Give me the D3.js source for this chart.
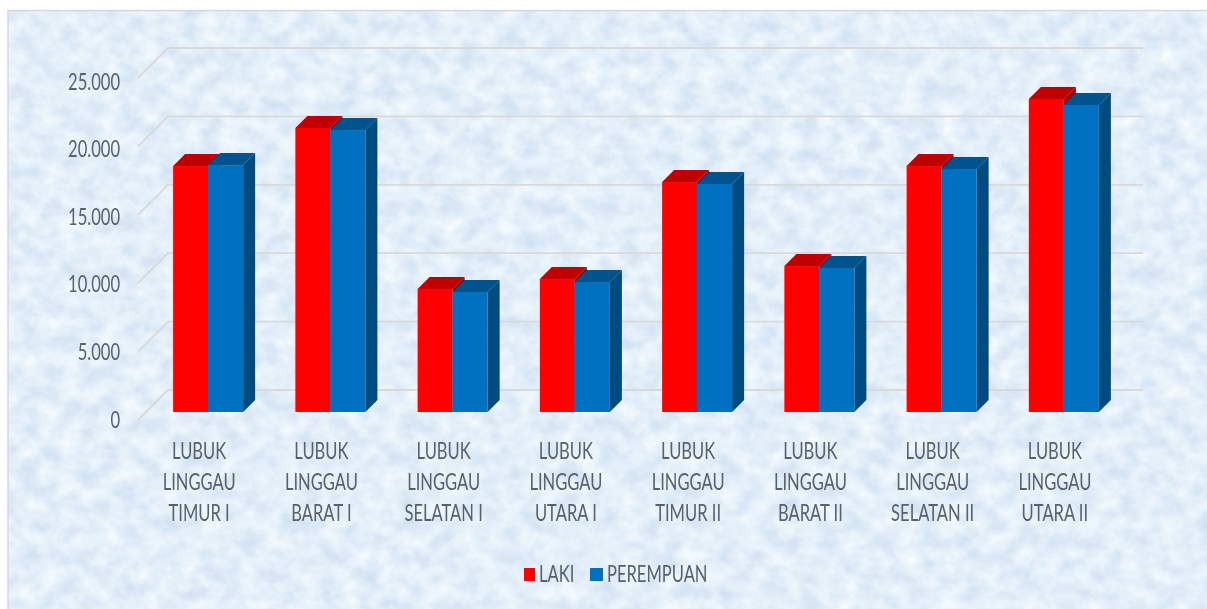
<!DOCTYPE html>
<html>
<head>
<meta charset="utf-8">
<script src="https://cdn.jsdelivr.net/npm/d3@7"></script>
<style>
    html, body { margin: 0; padding: 0; background: #fff; overflow: hidden; }
    text { font-family: Lato, "Open Sans", sans-serif; fill: #59616b; }
</style>
</head>
<body>
<div id="vis"></div>
<script>
// data
const categories = [
    ["LUBUK", "LINGGAU", "TIMUR I"],
    ["LUBUK", "LINGGAU", "BARAT I"],
    ["LUBUK", "LINGGAU", "SELATAN I"],
    ["LUBUK", "LINGGAU", "UTARA I"],
    ["LUBUK", "LINGGAU", "TIMUR II"],
    ["LUBUK", "LINGGAU", "BARAT II"],
    ["LUBUK", "LINGGAU", "SELATAN II"],
    ["LUBUK", "LINGGAU", "UTARA II"]
]
const laki = [17980, 20760, 8990, 9720, 16810, 10670, 17980, 22880]
const perempuan = [18050, 20610, 8770, 9500, 16670, 10530, 17760, 22440]
const seriesNames = ["LAKI", "PEREMPUAN"]
const yTicks = [0, 5000, 10000, 15000, 20000, 25000]

const width = 1207
const height = 609
const wallDepth = 30   // how far the gridlines run back
const barDepth = 12    // depth of each 3d bar
const textSize = 23
const textSquash = 0.72  // the original font is a narrow one

const colors = {
    LAKI: { front: "#ff0000", top: "#c00000", side: "#a00000" },
    PEREMPUAN: { front: "#0070c0", top: "#00528c", side: "#004b80" }
}

const svg = d3.select("#vis")
    .append("svg")
    .attr("width", width)
    .attr("height", height)
    .style("display", "block")

// mottled paper background
const defs = svg.append("defs")
const paper = defs.append("filter").attr("id", "paper")
    .attr("x", 0).attr("y", 0).attr("width", "100%").attr("height", "100%")
    .attr("color-interpolation-filters", "sRGB")
paper.append("feTurbulence")
    .attr("type", "fractalNoise")
    .attr("baseFrequency", "0.05 0.06")
    .attr("numOctaves", 5)
    .attr("seed", 7)
    .attr("result", "noise")
paper.append("feColorMatrix")
    .attr("in", "noise")
    .attr("type", "matrix")
    .attr("values", "0.20 0 0 0 0.79  0.14 0 0 0 0.865  0.06 0 0 0 0.945  0 0 0 0 1")

defs.append("filter").attr("id", "soft")
    .append("feGaussianBlur").attr("stdDeviation", 0.5)

svg.append("rect")
    .attr("x", 8).attr("y", 10)
    .attr("width", width - 8).attr("height", height - 10)
    .attr("fill", "#dcebf8")
    .attr("filter", "url(#paper)")
svg.append("path")
    .attr("d", d3.line()([[8, height], [8, 10.5], [width, 10.5]]))
    .attr("fill", "none")
    .attr("stroke", "#d6d8da")
    .attr("stroke-width", 1.5)

const chart = svg.append("g").attr("filter", "url(#soft)")

// scales are for the front plane of the chart
const y = d3.scaleLinear()
    .domain([0, 25000])
    .range([420, 78])

const x = d3.scaleBand()
    .domain(d3.range(categories.length))
    .range([138, 1116])

const xSeries = d3.scaleBand()
    .domain(seriesNames)
    .range([-26, 44])

// gridlines: slanted floor piece + back wall piece
chart.append("g")
    .selectAll("path")
    .data(yTicks)
    .join("path")
    .attr("d", d => d3.line()([
        [138, y(d)],
        [138 + wallDepth, y(d) - wallDepth],
        [1143, y(d) - wallDepth]
    ]))
    .attr("fill", "none")
    .attr("stroke", "#d9d9d9")
    .attr("stroke-width", 1.8)

// y axis labels
const yAxis = d3.axisLeft(d3.scaleLinear().domain([0, 25000]).range([419, 81]))
    .tickValues(yTicks)
    .tickSize(0)
    .tickFormat(d => d3.format(",")(d).replace(",", "."))

const axisG = chart.append("g")
    .attr("transform", "translate(120,0)")
    .call(yAxis)
    .attr("font-family", null)
    .attr("font-size", null)
axisG.select(".domain").remove()
axisG.selectAll("text")
    .attr("x", 0)
    .attr("dy", "0.35em")
    .attr("font-size", textSize)
    .attr("transform", `scale(${textSquash},1)`)

// bars, back to front: red first so the blue covers its side
const barBase = 412
const barHeight = v => y(0) - y(v)

seriesNames.forEach(function(name, s) {
    const values = s === 0 ? laki : perempuan
    const c = colors[name]
    const bars = chart.append("g")
        .selectAll("g")
        .data(values)
        .join("g")
        .attr("transform", (d, i) => `translate(${x(i) + x.bandwidth() / 2 + xSeries(name)},0)`)

    const w = xSeries.bandwidth()

    bars.append("path")
        .attr("fill", c.side)
        .attr("d", d => {
            const t = barBase - barHeight(d)
            return d3.line()([[w, t], [w + barDepth, t - barDepth], [w + barDepth, barBase - barDepth], [w, barBase]])
        })
    bars.append("path")
        .attr("fill", c.top)
        .attr("d", d => {
            const t = barBase - barHeight(d)
            return d3.line()([[0, t], [barDepth, t - barDepth], [w + barDepth, t - barDepth], [w, t]])
        })
    bars.append("rect")
        .attr("fill", c.front)
        .attr("x", 0)
        .attr("y", d => barBase - barHeight(d))
        .attr("width", w)
        .attr("height", d => barHeight(d))
})

// category labels, three lines each
const labels = chart.append("g")
    .selectAll("g")
    .data(categories)
    .join("g")
    .attr("transform", (d, i) => `translate(${x(i) + x.bandwidth() / 2},0)`)

labels.selectAll("text")
    .data(d => d)
    .join("text")
    .attr("text-anchor", "middle")
    .attr("font-size", textSize)
    .attr("transform", (d, i) => `translate(0,${459 + i * 31}) scale(${textSquash},1)`)
    .text(d => d)

// legend
const legendX = d3.scaleOrdinal().domain(seriesNames).range([524, 590])
const legendW = d3.scaleOrdinal().domain(seriesNames).range([11, 13])

const legend = chart.append("g")
    .selectAll("g")
    .data(seriesNames)
    .join("g")
    .attr("transform", d => `translate(${legendX(d)},568)`)
legend.append("rect")
    .attr("width", d => legendW(d))
    .attr("height", 13)
    .attr("fill", d => colors[d].front)
legend.append("text")
    .attr("font-size", textSize)
    .attr("transform", d => `translate(${legendW(d) + 4},14) scale(${textSquash},1)`)
    .text(d => d)
</script>
</body>
</html>
